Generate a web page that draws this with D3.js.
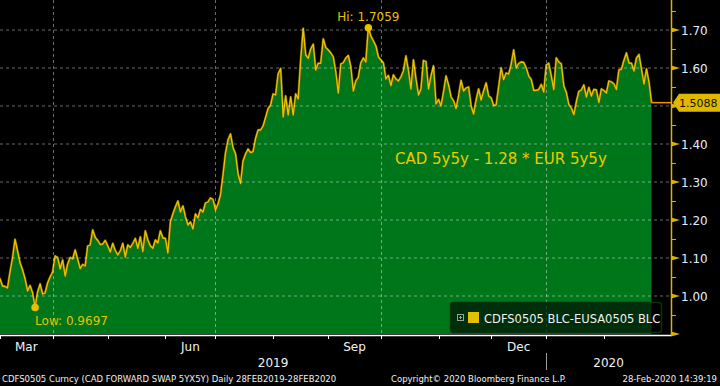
<!DOCTYPE html>
<html><head><meta charset="utf-8">
<script src="https://cdn.jsdelivr.net/npm/d3@7"></script>
<style>body{margin:0;background:#000}svg{display:block}</style>
</head><body><svg id="c" width="720" height="386"></svg>
<script>
// ---- data ----
const startDate = "2019-02-28";
const endDate = "2020-02-28";
const values = [
1.0553,1.0447,1.0263,1.0250,1.0211,1.0632,1.1000,1.1487,1.1184,1.0868,
1.0684,1.0447,1.0132,1.0276,1.0079,0.9697,1.0105,1.0316,1.0053,1.0079,
1.0342,1.0500,1.0632,1.1053,1.1013,1.0711,1.0947,1.0526,1.0842,1.1013,
1.0974,1.1211,1.0961,1.0724,1.0829,1.0789,1.1316,1.1342,1.1737,1.1539,
1.1461,1.1355,1.1368,1.1461,1.1316,1.1158,1.1382,1.1197,1.1079,1.1184,
1.1382,1.1026,1.1342,1.1276,1.1382,1.1513,1.1255,1.1553,1.1171,1.1711,
1.1474,1.1316,1.1255,1.1474,1.1395,1.1711,1.1526,1.1513,1.1132,1.1947,
1.2158,1.2342,1.2500,1.2211,1.2368,1.2079,1.1868,1.1947,1.1763,1.2158,
1.2053,1.2276,1.2211,1.2447,1.2474,1.2579,1.2539,1.2263,1.2421,1.2658,
1.3184,1.3763,1.4105,1.4263,1.3895,1.3737,1.3211,1.2961,1.3553,1.3737,
1.3868,1.3776,1.3797,1.4145,1.4368,1.4368,1.4474,1.4697,1.4934,1.5026,
1.5316,1.5289,1.5842,1.5987,1.4711,1.5263,1.4763,1.5237,1.4763,1.5316,
1.5184,1.6211,1.7039,1.6342,1.6255,1.6500,1.6624,1.5947,1.6124,1.6124,
1.6763,1.6539,1.6474,1.6395,1.6289,1.5895,1.5342,1.6105,1.6139,1.6263,
1.6329,1.6026,1.5395,1.5658,1.5755,1.6132,1.6263,1.6158,1.7059,1.6842,
1.6711,1.6579,1.6289,1.6211,1.6132,1.5711,1.5803,1.5539,1.5816,1.5711,
1.5658,1.5763,1.5921,1.6316,1.5921,1.5447,1.6211,1.5711,1.5289,1.5447,
1.6197,1.6171,1.5447,1.5789,1.6053,1.5053,1.5171,1.5000,1.5368,1.5789,
1.5553,1.5237,1.5132,1.4934,1.5263,1.5671,1.5395,1.5474,1.5500,1.5000,
1.4789,1.5158,1.5447,1.5158,1.5395,1.5605,1.5263,1.5211,1.5013,1.5026,
1.5500,1.6000,1.5697,1.5868,1.5842,1.6092,1.6474,1.6000,1.6118,1.6158,
1.6145,1.6000,1.5789,1.5697,1.5408,1.5413,1.5434,1.5566,1.5368,1.6079,
1.6124,1.5789,1.5434,1.6263,1.6158,1.6105,1.5526,1.5355,1.5039,1.4947,
1.4771,1.5105,1.5382,1.5421,1.5553,1.5237,1.5487,1.5263,1.5434,1.5421,
1.5092,1.5447,1.5408,1.5342,1.5658,1.5632,1.5579,1.5434,1.5947,1.5966,
1.6197,1.6395,1.6132,1.6124,1.5921,1.6263,1.6355,1.5961,1.5579,1.5974,
1.5618,1.5088
];
const yTicks = [1.00,1.10,1.20,1.30,1.40,1.50,1.60,1.70];
const yMinorTicks = [0.95,1.05,1.15,1.25,1.35,1.45,1.55,1.65,1.75];
const monthLabels = ["Mar","Jun","Sep","Dec"];
const gridMonths = ["Apr","Jul","Oct","Jan"];
const yearLabels = ["2019","2020"];
const hiValue = 1.7059, lowValue = 0.9697, lastValue = 1.5088;
const seriesName = "CDFS0505 BLC-EUSA0505 BLC";
const noteText = "CAD 5y5y - 1.28 * EUR 5y5y";
const footerLeft = "CDFS0505 Curncy (CAD FORWARD SWAP 5YX5Y)  Daily 28FEB2019-28FEB2020";
const footerMid = "Copyright\u00A9 2020 Bloomberg Finance L.P.";
const footerRight = "28-Feb-2020 14:39:19";

// ---- setup ----
const parse = d3.timeParse("%Y-%m-%d");
const fmtKey = d3.timeFormat("%Y-%m-%d");
const fmtMon = d3.timeFormat("%b");
const dates = d3.timeDay.range(parse(startDate), d3.timeDay.offset(parse(endDate), 1))
  .filter(d => d.getDay() !== 0 && d.getDay() !== 6).map(fmtKey);
const data = values.map((v, i) => ({date: dates[i], v}));

const W = 720, H = 386;
const plotRight = 671, plotBottom = 334;
const svg = d3.select("#c");
const FONT = "'DejaVu Sans', 'Liberation Sans', sans-serif";

const x = d3.scalePoint().domain(dates.slice(0, values.length)).range([-2.5, 651.5]);
const y = d3.scaleLinear().domain([0.90, 1.70]).range([plotBottom, 30]);

svg.append("rect").attr("width", W).attr("height", H).attr("fill", "#000");

svg.append("defs").append("clipPath").attr("id", "clip")
  .append("rect").attr("x", 0).attr("y", 0).attr("width", plotRight).attr("height", plotBottom);

const plot = svg.append("g").attr("clip-path", "url(#clip)");

// area + line
const area = d3.area().x(d => x(d.date)).y0(plotBottom).y1(d => y(d.v));
const line = d3.line().x(d => x(d.date)).y(d => y(d.v));
plot.append("path").datum(data).attr("d", area).attr("fill", "#00761b");
plot.append("path").datum(data).attr("d", line).attr("fill", "none")
  .attr("stroke", "#6b5a00").attr("stroke-width", 2.4).attr("stroke-linejoin", "round");
plot.append("path").datum(data).attr("d", line).attr("fill", "none")
  .attr("stroke", "#e8c400").attr("stroke-width", 1.3).attr("stroke-linejoin", "round");

// month starts (first business day of each month)
const monthStarts = [];
dates.forEach((d, i) => {
  const dt = parse(d);
  if (i === 0 || parse(dates[i - 1]).getMonth() !== dt.getMonth()) {
    if (i > 0 || dt.getDate() === 1) monthStarts.push({key: d, dt, i});
  }
});
const ms = monthStarts.filter(m => !(m.dt.getMonth() === 1 && m.dt.getFullYear() === 2019));

// grid
const grid = svg.append("g");
yTicks.forEach(t => {
  grid.append("line").attr("x1", 0).attr("x2", plotRight).attr("y1", y(t)).attr("y2", y(t))
    .attr("stroke", "#ffffff").attr("stroke-opacity", 0.42).attr("stroke-dasharray", "3,3").attr("stroke-width", 1);
});
ms.filter(m => gridMonths.includes(fmtMon(m.dt))).forEach(m => {
  const xx = Math.round(x(m.key)) + 0.5;
  grid.append("line").attr("x1", xx).attr("x2", xx).attr("y1", 0).attr("y2", plotBottom)
    .attr("stroke", "#ffffff").attr("stroke-opacity", 0.42).attr("stroke-dasharray", "3,3");
});

// last value line
svg.append("line").attr("x1", x(dates[values.length - 1])).attr("x2", plotRight)
  .attr("y1", y(lastValue)).attr("y2", y(lastValue)).attr("stroke", "#ff8c00").attr("stroke-width", 1.5);

// bottom axis
const ax = svg.append("g");
ax.append("line").attr("x1", 0).attr("x2", plotRight).attr("y1", plotBottom + 1.5).attr("y2", plotBottom + 1.5)
  .attr("stroke", "#ffffff").attr("stroke-width", 1.5);
ms.forEach(m => {
  const xx = Math.round(x(m.key)) + 0.5;
  ax.append("line").attr("x1", xx).attr("x2", xx).attr("y1", plotBottom + 1).attr("y2", plotBottom + 5)
    .attr("stroke", "#ffffff").attr("stroke-width", 1);
});
ms.forEach((m, k) => {
  const name = fmtMon(m.dt);
  if (!monthLabels.includes(name)) return;
  const x1 = x(m.key), x2 = k + 1 < ms.length ? x(ms[k + 1].key) : plotRight;
  ax.append("text").attr("x", (x1 + x2) / 2).attr("y", 351).attr("text-anchor", "middle")
    .attr("fill", "#f2f2f2").attr("font-family", FONT).attr("font-size", 12).text(name);
});
// years
const jan = ms.find(m => m.dt.getMonth() === 0);
const xJan = Math.round(x(jan.key)) + 0.5;
ax.append("line").attr("x1", xJan).attr("x2", xJan).attr("y1", 353).attr("y2", 370)
  .attr("stroke", "#9a9a9a").attr("stroke-width", 1);
[[0, x(jan.key), yearLabels[0]], [x(jan.key), plotRight, yearLabels[1]]].forEach(([a, b, t]) => {
  ax.append("text").attr("x", (a + b) / 2).attr("y", 367).attr("text-anchor", "middle")
    .attr("fill", "#f2f2f2").attr("font-family", FONT).attr("font-size", 12).text(t);
});

// right axis
const ra = svg.append("g");
const gold = "#dcb400";
ra.append("line").attr("x1", plotRight + 0.5).attr("x2", plotRight + 0.5).attr("y1", 0).attr("y2", plotBottom + 1)
  .attr("stroke", gold).attr("stroke-width", 1.5);
yMinorTicks.forEach(t => {
  ra.append("line").attr("x1", plotRight).attr("x2", plotRight + 5).attr("y1", Math.round(y(t)) + 0.5).attr("y2", Math.round(y(t)) + 0.5)
    .attr("stroke", gold).attr("stroke-width", 1);
});
[...yTicks, 0.90].forEach(t => {
  const yy = y(t);
  ra.append("path").attr("d", `M${plotRight},${yy - 2.5}L${plotRight + 9},${yy}L${plotRight},${yy + 2.5}Z`).attr("fill", gold);
});
yTicks.filter(t => Math.abs(t - 1.5) > 1e-9).forEach(t => {
  ra.append("text").attr("x", 681).attr("y", y(t) + 4.5).attr("fill", "#e6edf8")
    .attr("font-family", FONT).attr("font-size", 12).text(t.toFixed(2));
});
// last value tag
const ly = y(lastValue);
ra.append("path").attr("d", `M${plotRight + 2},${ly}L${plotRight + 8},${ly - 9}L${W},${ly - 9}L${W},${ly + 9}L${plotRight + 8},${ly + 9}Z`)
  .attr("fill", "#e0b800");
ra.append("text").attr("x", 679).attr("y", ly + 4.5).attr("fill", "#1a1400")
  .attr("font-family", FONT).attr("font-size", 11).text(lastValue.toFixed(4));

// hi / low annotations
const hiIdx = values.indexOf(hiValue), loIdx = values.indexOf(lowValue);
const ann = svg.append("g");
ann.append("circle").attr("cx", x(dates[hiIdx])).attr("cy", y(hiValue)).attr("r", 3.8).attr("fill", "#e8c000");
ann.append("text").attr("x", x(dates[hiIdx])).attr("y", 21).attr("text-anchor", "middle")
  .attr("fill", "#e8c000").attr("font-family", FONT).attr("font-size", 12).text("Hi: " + hiValue.toFixed(4));
ann.append("circle").attr("cx", x(dates[loIdx])).attr("cy", y(lowValue)).attr("r", 3.8).attr("fill", "#e8c000");
ann.append("text").attr("x", x(dates[loIdx])).attr("y", 324.5)
  .attr("fill", "#e8c000").attr("font-family", FONT).attr("font-size", 12).text("Low: " + lowValue.toFixed(4));

// note text
svg.append("text").attr("x", 395).attr("y", 164).attr("fill", "#f0c800")
  .attr("font-family", FONT).attr("font-size", 15).text(noteText);

// legend
const lg = svg.append("g");
lg.append("rect").attr("x", 450.5).attr("y", 302.5).attr("width", 211).attr("height", 30).attr("rx", 3)
  .attr("fill", "#000").attr("fill-opacity", 0.62).attr("stroke", "#05330c").attr("stroke-width", 1.5);
lg.append("rect").attr("x", 457.5).attr("y", 314.5).attr("width", 6).attr("height", 6).attr("fill", "none").attr("stroke", "#9aa39a");
lg.append("path").attr("d", "M459,317.5H462M460.5,316V319").attr("stroke", "#9aa39a");
lg.append("rect").attr("x", 468).attr("y", 312).attr("width", 11).attr("height", 11).attr("fill", "#e0c000");
lg.append("text").attr("x", 484).attr("y", 322.5).attr("fill", "#f2f2f2")
  .attr("font-family", FONT).attr("font-size", 11.5).text(seriesName);

// footer
const ft = svg.append("g").attr("font-family", FONT).attr("font-size", 8.5).attr("fill", "#f0f0f0");
ft.append("text").attr("x", 2).attr("y", 382).text(footerLeft);
ft.append("text").attr("x", 391).attr("y", 382).text(footerMid);
ft.append("text").attr("x", 717).attr("y", 382).attr("text-anchor", "end").text(footerRight);
</script></body></html>
